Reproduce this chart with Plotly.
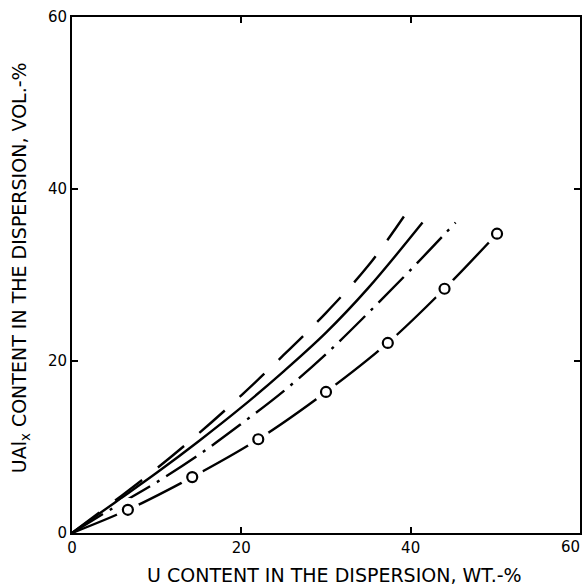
import plotly.graph_objects as go

# Curve A (long dash)
a_x = [0, 5, 10, 15, 20, 25, 30, 35, 39.2]
a_y = [0, 3.7, 7.5, 11.6, 16.0, 20.7, 25.6, 31.1, 36.8]
# Curve B (solid)
b_x = [0, 5, 10, 15, 20, 25, 30, 35, 41.4]
b_y = [0, 3.5, 7.0, 10.7, 14.6, 18.8, 23.3, 28.5, 36.1]
# Curve C (dash-dot)
c_x = [0, 5, 10, 15, 20, 25, 30, 35, 40, 45.3]
c_y = [0, 3.0, 5.9, 9.1, 12.7, 16.5, 20.8, 25.6, 30.6, 36.1]
# Curve D (measured points, open circles)
d_x = [6.6, 14.2, 22.0, 30.0, 37.3, 44.0, 50.2]
d_y = [2.7, 6.5, 10.9, 16.4, 22.1, 28.4, 34.8]

x_ticks = [0, 20, 40, 60]
y_ticks = [0, 20, 40, 60]

fig = go.Figure()
lw = 2.4
fig.add_trace(go.Scatter(x=a_x, y=a_y, mode="lines", line=dict(color="black", width=lw, dash="34px,20px", shape="spline")))
fig.add_trace(go.Scatter(x=b_x, y=b_y, mode="lines", line=dict(color="black", width=lw, shape="spline")))
fig.add_trace(go.Scatter(x=c_x, y=c_y, mode="lines", line=dict(color="black", width=lw, dash="36px,8px,3px,8px", shape="spline")))
fig.add_trace(go.Scatter(x=[0] + d_x, y=[0] + d_y, mode="lines", line=dict(color="black", width=lw, shape="spline")))
fig.add_trace(go.Scatter(x=d_x, y=d_y, mode="markers", marker=dict(size=24, color="white", line=dict(width=0))))
fig.add_trace(go.Scatter(x=d_x, y=d_y, mode="markers", marker=dict(size=10, color="white", symbol="circle", line=dict(color="black", width=2.2))))

font = dict(family="DejaVu Sans", size=15, color="black")
axis_common = dict(showgrid=False, zeroline=False, showline=True, linecolor="black", linewidth=2,
                   mirror="allticks", ticks="inside", ticklen=6, tickwidth=1.5, tickcolor="black",
                   tickfont=font)
# last x tick label is drawn as an annotation so it stays inside the page edge
x_text = [str(v) for v in x_ticks[:-1]] + [""]
fig.update_xaxes(range=[0, 60], tickvals=x_ticks, ticktext=x_text, **axis_common)
fig.update_yaxes(range=[0, 60], tickvals=y_ticks, ticktext=[str(v) for v in y_ticks], **axis_common)

title_font = dict(family="DejaVu Sans", size=19, color="black")
fig.update_layout(
    width=584, height=586,
    margin=dict(l=72, r=2, t=17, b=53),
    paper_bgcolor="white", plot_bgcolor="white",
    showlegend=False,
    annotations=[
        dict(text=str(x_ticks[-1]), xref="x", yref="paper", x=x_ticks[-1], y=0,
             xanchor="right", yanchor="top", yshift=-3, xshift=2, showarrow=False, font=font),
        dict(text="U CONTENT IN THE DISPERSION, WT.-%", xref="paper", yref="paper",
             x=(336 - 72) / 510, y=-(575 - 533) / 516, xanchor="center", yanchor="middle",
             showarrow=False, font=title_font),
        dict(text="UAl<sub>x</sub> CONTENT IN THE DISPERSION, VOL.-%", xref="paper", yref="paper",
             x=-(72 - 20) / 510, y=(533 - 268) / 516, xanchor="center", yanchor="middle", textangle=-90,
             showarrow=False, font=title_font),
    ],
)
fig.write_html("out.html", config={"displayModeBar": False},
               post_script="document.body.style.margin='0';document.body.style.overflow='hidden';")
